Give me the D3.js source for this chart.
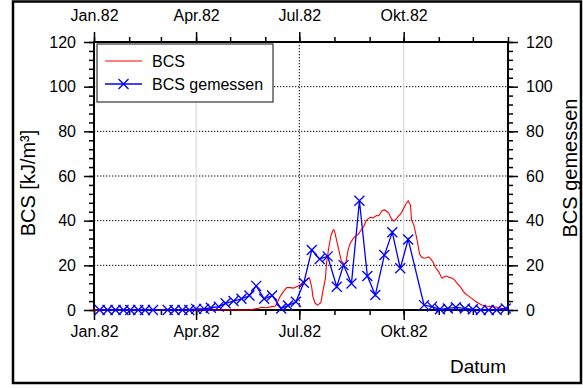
<!DOCTYPE html>
<html>
<head>
<meta charset="utf-8">
<script src="https://cdn.jsdelivr.net/npm/d3@7"></script>
<style>
  html, body { margin: 0; padding: 0; background: #fff; }
  svg text { font-family: "Liberation Sans", Arial, sans-serif; fill: #000; }
</style>
</head>
<body>
<svg id="chart" width="583" height="389"></svg>
<script>
// Simulated BCS, given as day offsets from 1 Jan 1982
const bcsDay = [0, 137, 140, 145, 148, 152, 157, 160, 162, 164, 167, 170, 173, 176, 180, 182, 185, 188, 190, 192, 193, 195, 197, 200, 202, 204, 205, 207, 209, 211, 212, 214, 216, 218, 220, 222, 224, 226, 229, 231, 233, 235, 238, 240, 242, 244, 246, 249, 251, 254, 256, 258, 260, 262, 264, 266, 268, 271, 273, 275, 277, 279, 280, 282, 283, 285, 286, 287, 289, 291, 293, 295, 297, 299, 301, 304, 306, 307, 309, 311, 313, 316, 318, 320, 323, 325, 327, 330, 333, 336, 339, 342, 345, 351, 356, 361, 364];
const bcsValue = [0, 0, 0.3, 0.8, 1.2, 1.0, 1.5, 1.8, 3.7, 6, 8.2, 10, 10, 9.8, 10.7, 11.5, 12.7, 13.8, 14.4, 10, 6, 3, 2.2, 3.3, 9, 14, 21, 28, 33.5, 36, 35.5, 31, 26.5, 22, 20.9, 21, 26.9, 30, 32.3, 33.3, 33.8, 35.5, 37.5, 40, 41, 41.5, 41.2, 42.3, 42.2, 44.6, 44.8, 44.2, 43.3, 41, 39.8, 40.5, 41.8, 43.5, 45.5, 47.5, 48.9, 47, 40.3, 38, 35.8, 31, 28, 25, 23.6, 23.2, 23.4, 23.8, 22.8, 21.4, 19, 17.1, 15, 14.2, 15, 15.2, 14.6, 14.2, 13.4, 12, 10.4, 8.8, 7.5, 6.3, 5.2, 4, 3, 2.2, 1.8, 1.5, 1.2, 0.4, 0.3];

// Measured BCS
const gemDate = ["1982-01-06", "1982-01-13", "1982-01-20", "1982-01-27", "1982-02-02", "1982-02-09", "1982-02-15", "1982-02-22",
  "1982-03-07", "1982-03-13", "1982-03-20", "1982-03-26", "1982-04-01", "1982-04-08", "1982-04-14", "1982-04-21", "1982-04-27",
  "1982-05-04", "1982-05-11", "1982-05-18", "1982-05-24", "1982-05-31", "1982-06-07", "1982-06-15", "1982-06-21", "1982-06-28",
  "1982-07-05", "1982-07-12", "1982-07-19", "1982-07-26", "1982-08-03", "1982-08-09", "1982-08-16", "1982-08-23", "1982-08-30",
  "1982-09-06", "1982-09-14", "1982-09-21", "1982-09-28", "1982-10-05", "1982-10-19", "1982-10-26", "1982-11-02", "1982-11-09",
  "1982-11-16", "1982-11-24", "1982-12-01", "1982-12-08", "1982-12-15", "1982-12-22", "1982-12-30"];
const gemValue = [0, 0, 0, 0, 0, 0, 0, 0,
  0, 0, 0, 0, 0.5, 0.5, 1, 1.5, 3,
  4, 5, 6.5, 10.8, 5, 6.5, 0.7, 2, 3.7,
  12.2, 26.9, 22.8, 24, 10.4, 20.1, 11.9, 48.9, 15.2,
  6.7, 24.6, 34.8, 18.7, 31.6, 2.2, 1.5, 0.3, 0.7,
  1.2, 0.7, 0.3, 0, 0, 0, 0.7];

// Axis ticks
const quarterLabels = ["Jan.82", "Apr.82", "Jul.82", "Okt.82"];
const yTicks = [0, 20, 40, 60, 80, 100, 120];
const seriesNames = ["BCS", "BCS gemessen"];

(function draw() {
  const svg = d3.select("#chart");
  const pL = 94, pR = 508, pT = 42, pB = 310;

  const start = new Date(1982, 0, 1);
  const end = new Date(1983, 0, 1);
  const x = d3.scaleTime().domain([start, end]).range([pL, pR]);
  const y = d3.scaleLinear().domain([0, 120]).range([pB, pT]);

  const parse = d3.timeParse("%Y-%m-%d");
  const bcs = bcsDay.map((d, i) => ({ date: d3.timeDay.offset(start, d), v: bcsValue[i] }));
  const gem = gemDate.map((d, i) => ({ date: parse(d), v: gemValue[i] }));

  // outer frame
  svg.append("rect").attr("x", 13).attr("y", 1.5).attr("width", 568).attr("height", 381.5)
    .attr("fill", "none").attr("stroke", "#000").attr("stroke-width", 2.5);

  const quarters = d3.timeMonth.every(3).range(start, end);
  const months = d3.timeMonth.range(start, end).concat([end]);

  // gridlines
  const grid = svg.append("g");
  grid.selectAll("line.h").data([20, 40, 60, 80, 100]).join("line")
    .attr("x1", pL).attr("x2", pR).attr("y1", d => y(d)).attr("y2", d => y(d))
    .attr("stroke", "#000").attr("stroke-width", 1).attr("stroke-dasharray", "1.3,1.7");
  grid.selectAll("line.v").data(quarters.slice(1)).join("line")
    .attr("x1", d => x(d)).attr("x2", d => x(d)).attr("y1", pT).attr("y2", pB)
    .attr("stroke", d => d.getMonth() === 6 ? "#000" : "#d4d4d4")
    .attr("stroke-width", 1)
    .attr("stroke-dasharray", d => d.getMonth() === 6 ? "1.3,1.7" : null);

  // axes
  const fmt = d => quarterLabels[d.getMonth() / 3];
  function styleAxis(g) {
    g.select(".domain").remove();
    g.selectAll("line").attr("stroke", "#000").attr("stroke-width", 1.5);
    g.selectAll("text").attr("font-size", 16);
  }
  svg.append("g").attr("transform", `translate(0,${pB})`)
    .call(d3.axisBottom(x).tickValues(quarters).tickFormat(fmt).tickSize(10).tickPadding(6)).call(styleAxis);
  svg.append("g").attr("transform", `translate(0,${pB})`)
    .call(d3.axisBottom(x).tickValues(months).tickFormat("").tickSize(5)).call(styleAxis);
  svg.append("g").attr("transform", `translate(0,${pT})`)
    .call(d3.axisTop(x).tickValues(quarters).tickFormat(fmt).tickSize(10).tickPadding(11)).call(styleAxis);
  svg.append("g").attr("transform", `translate(0,${pT})`)
    .call(d3.axisTop(x).tickValues(months).tickFormat("").tickSize(5)).call(styleAxis);

  const minorY = d3.range(0, 121, 4);
  svg.append("g").attr("transform", `translate(${pL},0)`)
    .call(d3.axisLeft(y).tickValues(yTicks).tickSize(10).tickPadding(8)).call(styleAxis);
  svg.append("g").attr("transform", `translate(${pL},0)`)
    .call(d3.axisLeft(y).tickValues(minorY).tickFormat("").tickSize(5)).call(styleAxis);
  svg.append("g").attr("transform", `translate(${pR},0)`)
    .call(d3.axisRight(y).tickValues(yTicks).tickSize(10).tickPadding(8)).call(styleAxis);
  svg.append("g").attr("transform", `translate(${pR},0)`)
    .call(d3.axisRight(y).tickValues(minorY).tickFormat("").tickSize(5)).call(styleAxis);

  // plot frame
  svg.append("rect").attr("x", pL).attr("y", pT).attr("width", pR - pL).attr("height", pB - pT)
    .attr("fill", "none").attr("stroke", "#000").attr("stroke-width", 2);

  // series
  const line = d3.line().x(d => x(d.date)).y(d => y(d.v));
  svg.append("path").datum(bcs).attr("d", line)
    .attr("fill", "none").attr("stroke", "#ff0000").attr("stroke-width", 1.1);
  svg.append("path").datum(gem).attr("d", line)
    .attr("fill", "none").attr("stroke", "#0000ff").attr("stroke-width", 1.3);
  const cross = "M-5,-5L5,5M-5,5L5,-5";
  svg.append("g").selectAll("path").data(gem).join("path")
    .attr("transform", d => `translate(${x(d.date)},${y(d.v)})`)
    .attr("d", cross).attr("stroke", "#0000ff").attr("stroke-width", 1.3).attr("fill", "none");

  // axis titles
  svg.append("text").attr("transform", "translate(35,183) rotate(-90)")
    .attr("text-anchor", "middle").attr("font-size", 20).text("BCS [kJ/m³]");
  svg.append("text").attr("transform", "translate(577,168) rotate(-90)")
    .attr("text-anchor", "middle").attr("font-size", 20).text("BCS gemessen");
  svg.append("text").attr("x", 478).attr("y", 373).attr("text-anchor", "middle")
    .attr("font-size", 19).text("Datum");

  // legend
  const lg = svg.append("g");
  lg.append("rect").attr("x", 97).attr("y", 44).attr("width", 176).attr("height", 58)
    .attr("fill", "#fff").attr("stroke", "#333").attr("stroke-width", 1.2);
  const colors = ["#ff0000", "#0000ff"];
  seriesNames.forEach((name, i) => {
    const yy = 61 + i * 23;
    lg.append("line").attr("x1", 105).attr("x2", 142).attr("y1", yy).attr("y2", yy)
      .attr("stroke", colors[i]).attr("stroke-width", i ? 1.3 : 1.1);
    if (i === 1) lg.append("path").attr("transform", `translate(123.5,${yy})`).attr("d", cross)
      .attr("stroke", colors[i]).attr("stroke-width", 1.3);
    lg.append("text").attr("x", 152).attr("y", yy + 6).attr("font-size", 16).text(name);
  });
})();
</script>
</body>
</html>
